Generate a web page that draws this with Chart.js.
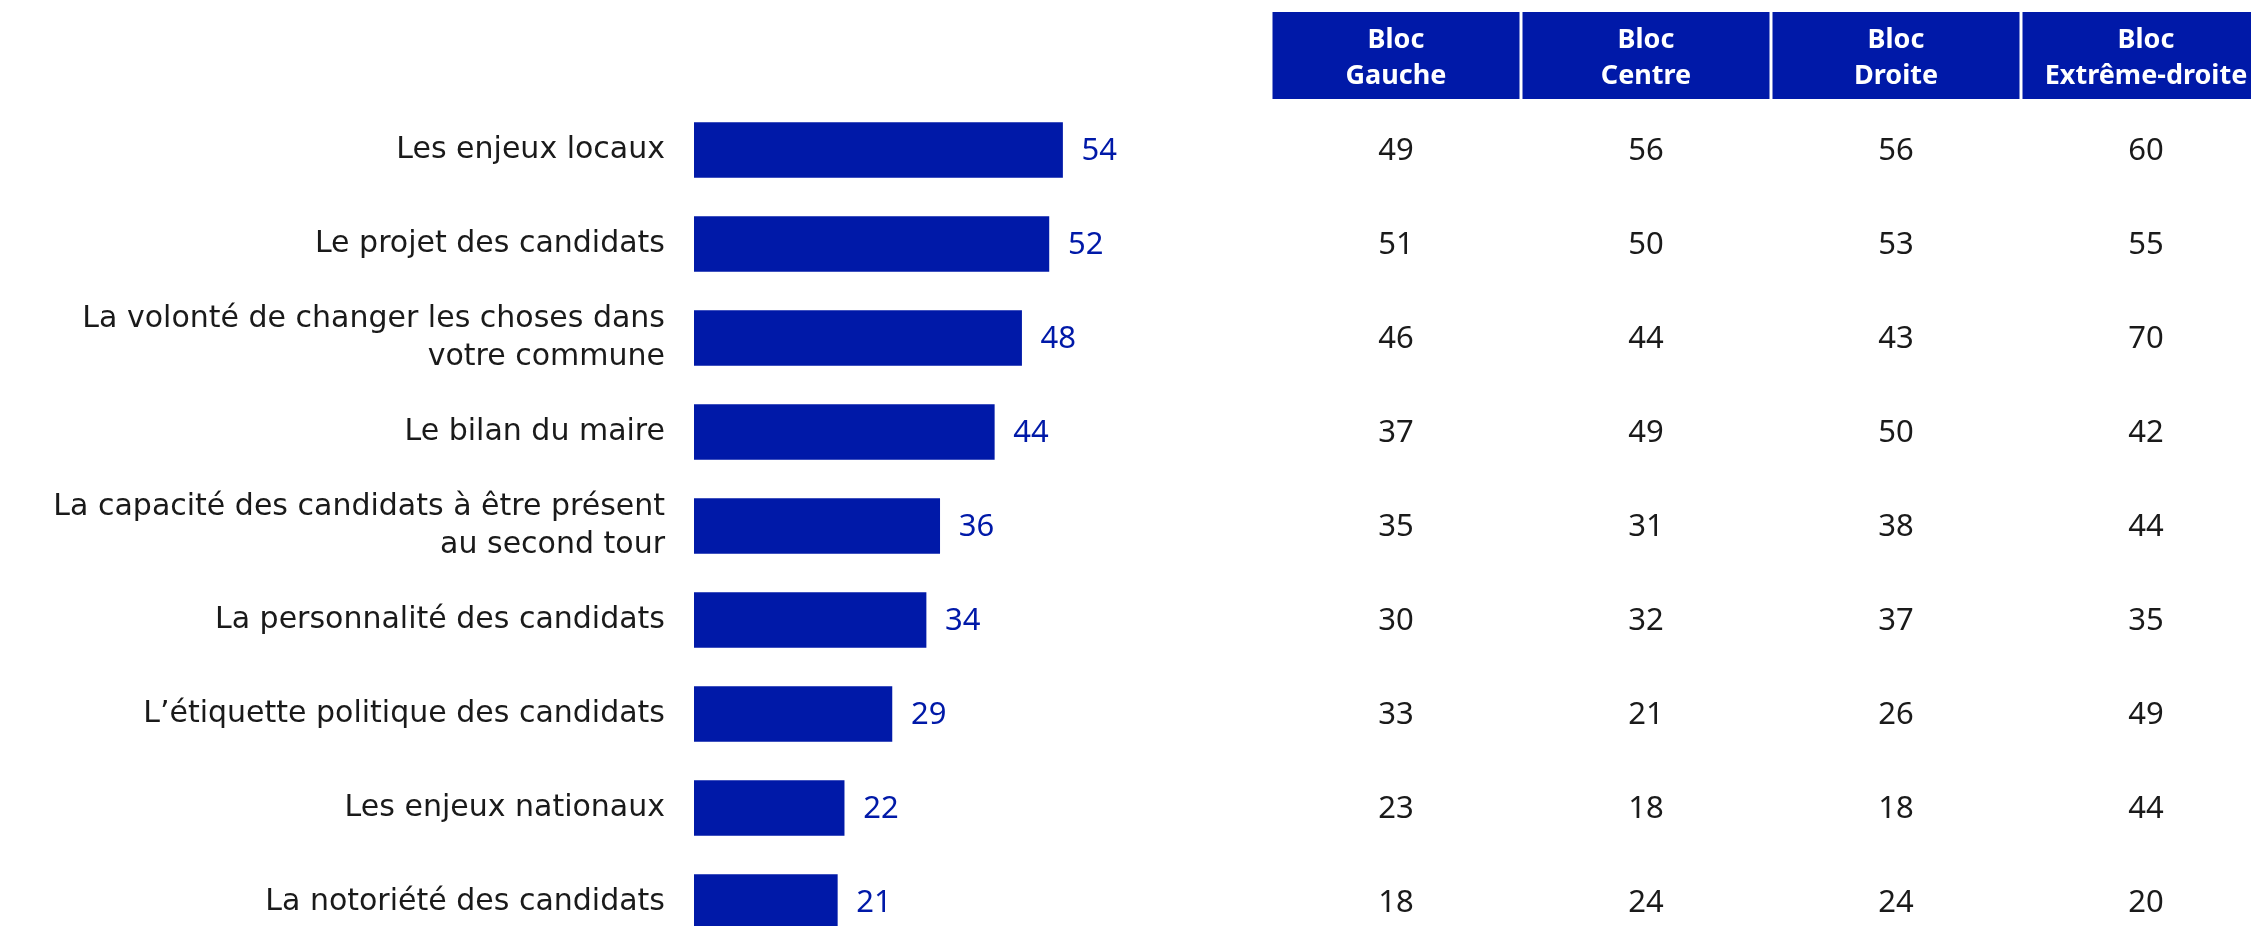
<!DOCTYPE html>
<html>
<head>
<meta charset="utf-8">
<script src="https://cdn.jsdelivr.net/npm/chart.js@4.4.1/dist/chart.umd.min.js"></script>
<style>
  html, body { margin: 0; padding: 0; background: #fff; overflow: hidden; }
  #wrap { position: relative; width: 2251px; height: 926px; overflow: hidden; }
  #chartBars { position: absolute; left: 0; top: 0; }
  #chartTable { position: absolute; left: 1271px; top: 0; }
</style>
</head>
<body>
<div id="wrap">
  <canvas id="chartBars" width="1240" height="960"></canvas>
  <canvas id="chartTable" width="1000" height="960"></canvas>
</div>
<script>
const criteres = [
  "Les enjeux locaux",
  "Le projet des candidats",
  ["La volonté de changer les choses dans", "votre commune"],
  "Le bilan du maire",
  ["La capacité des candidats à être présent", "au second tour"],
  "La personnalité des candidats",
  "L’étiquette politique des candidats",
  "Les enjeux nationaux",
  "La notoriété des candidats"
];
const ensemble = [54, 52, 48, 44, 36, 34, 29, 22, 21];

const blocs = [["Bloc", "Gauche"], ["Bloc", "Centre"], ["Bloc", "Droite"], ["Bloc", "Extrême-droite"]];
const blocGauche = [49, 51, 46, 37, 35, 30, 33, 23, 18];
const blocCentre = [56, 50, 44, 49, 31, 32, 21, 18, 24];
const blocDroite = [56, 53, 43, 50, 38, 37, 26, 18, 24];
const blocExtremeDroite = [60, 55, 70, 42, 44, 35, 49, 44, 20];
const tableValues = [blocGauche, blocCentre, blocDroite, blocExtremeDroite];

const BLUE = "#0019A8";
const FONT = "'Noto Sans', sans-serif";
const LABEL_FONT = "'DejaVu Sans', sans-serif";

// valeurs au bout des barres
const valueLabels = {
  id: "valueLabels",
  afterDatasetsDraw(chart) {
    const ctx = chart.ctx;
    const meta = chart.getDatasetMeta(0);
    ctx.save();
    ctx.fillStyle = BLUE;
    ctx.font = "31px " + FONT;
    ctx.textAlign = "left";
    ctx.textBaseline = "middle";
    meta.data.forEach((bar, i) => {
      ctx.fillText(String(ensemble[i]), bar.x + 19, bar.y + 1);
    });
    ctx.restore();
  }
};

// tableau par bloc : en-têtes + chiffres
const tablePlugin = {
  id: "tablePlugin",
  afterDraw(chart) {
    const ctx = chart.ctx;
    const xs = chart.scales.x;
    const ys = chart.scales.y;
    const colW = xs.width / blocs.length;
    ctx.save();

    blocs.forEach((b, c) => {
      const cx = xs.getPixelForValue(c);
      ctx.fillStyle = BLUE;
      ctx.fillRect(cx - colW / 2 + 1.5, 12, colW - 3, 87);
      ctx.fillStyle = "#ffffff";
      ctx.font = "bold 27px " + FONT;
      ctx.textAlign = "center";
      ctx.textBaseline = "middle";
      ctx.fillText(b[0], cx, 40);
      ctx.fillText(b[1], cx, 76);
    });

    ctx.fillStyle = "#1a1a1a";
    ctx.font = "31px " + FONT;
    ctx.textAlign = "center";
    ctx.textBaseline = "middle";
    tableValues.forEach((col, c) => {
      const cx = xs.getPixelForValue(c);
      col.forEach((v, r) => {
        ctx.fillText(String(v), cx, ys.getPixelForValue(r) + 1);
      });
    });
    ctx.restore();
  }
};

new Chart(document.getElementById("chartBars"), {
  type: "bar",
  data: {
    labels: criteres,
    datasets: [{
      data: ensemble,
      backgroundColor: BLUE,
      barThickness: 55
    }]
  },
  options: {
    indexAxis: "y",
    responsive: false,
    animation: false,
    layout: { padding: { top: 103, bottom: 11, left: 0, right: 0 } },
    plugins: { legend: { display: false }, tooltip: { enabled: false } },
    scales: {
      x: { display: false, min: 0, max: 80 },
      y: {
        offset: true,
        grid: { display: false, drawTicks: false },
        border: { display: false },
        ticks: {
          padding: 29,
          color: "#1a1a1a",
          font: { family: LABEL_FONT, size: 30, lineHeight: 1.27 }
        },
        afterFit(scale) {
          scale.width = 694;
          scale.paddingTop = 0;
          scale.paddingBottom = 0;
        }
      }
    }
  },
  plugins: [valueLabels]
});

new Chart(document.getElementById("chartTable"), {
  type: "bar",
  data: { labels: criteres, datasets: [] },
  options: {
    indexAxis: "y",
    responsive: false,
    animation: false,
    layout: { padding: { top: 103, bottom: 11, left: 0, right: 0 } },
    plugins: { legend: { display: false }, tooltip: { enabled: false } },
    scales: {
      x: { type: "category", labels: blocs, offset: true, display: false },
      y: { type: "category", offset: true, display: false }
    }
  },
  plugins: [tablePlugin]
});
</script>
</body>
</html>
